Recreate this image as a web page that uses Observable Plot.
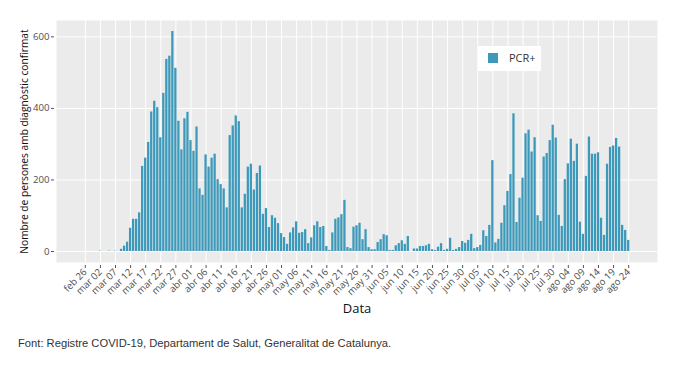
<!DOCTYPE html>
<html>
<head>
<meta charset="utf-8">
<script src="https://cdn.jsdelivr.net/npm/d3@7"></script>
<script src="https://cdn.jsdelivr.net/npm/@observablehq/plot@0.6"></script>
<style>
  body { margin: 0; background: white; }
  #wrap { position: relative; width: 681px; }
  #legend { position: absolute; left: 478px; top: 46px; width: 63px; height: 25px; background: white;
    font-family: "Open Sans", Verdana, sans-serif; font-size: 11px; color: #333; }
  #legend .sw { position: absolute; left: 10px; top: 7px; width: 10px; height: 10px; background: #3c99ba; }
  #legend .lb { position: absolute; left: 31px; top: 4px; line-height: 16px; }
  #caption { font-family: "Liberation Sans", Arial, sans-serif; font-size: 11.2px; color: #333; padding-left: 18px; margin-top: 5px; }
</style>
</head>
<body>
<div id="wrap">
  <div id="chart"></div>
  <div id="legend"><div class="sw"></div><div class="lb">PCR+</div></div>
  <div id="caption">Font: Registre COVID-19, Departament de Salut, Generalitat de Catalunya.</div>
</div>
<script>
const startDate = "2020-02-26";
const seriesName = "PCR+";
const xTitle = "Data";
const yTitle = "Nombre de persones amb diagnòstic confirmat";
const monthAbbr = ["gen","feb","mar","abr","may","jun","jul","ago","set","oct","nov","des"];
const yTicks = [0, 200, 400, 600];
const pcr = [
  0,0,0,0,0,1,0,0,1,0,1,0,
  6,15,26,65,90,90,108,238,261,305,390,420,402,318,442,537,546,615,512,364,284,371,389,310,280,348,175,157,270,236,261,272,201,
  187,175,122,324,351,379,363,122,160,236,244,172,218,239,104,120,67,100,93,78,50,39,20,52,66,83,51,53,61,22,38,72,83,67,70,14,3,52,90,94,103,143,11,8,68,
  72,79,33,61,11,5,5,25,33,47,44,3,3,16,22,30,20,42,0,7,7,14,14,16,20,5,3,12,22,3,6,37,3,6,11,28,23,31,48,8,11,17,58,42,73,
  254,24,34,79,128,168,215,385,81,149,205,329,339,278,318,100,84,264,274,310,353,317,101,70,201,245,314,252,300,82,48,210,320,272,272,276,93,45,244,291,295,316,292,73,59,31
];

const start = new Date(startDate + "T00:00:00Z");
const rows = pcr.map((v, i) => ({date: d3.utcDay.offset(start, i), value: v}));
const n = rows.length;
const tickDates = d3.range(0, n, 5).map(i => rows[i].date);
const fmt = d => `${monthAbbr[d.getUTCMonth()]} ${String(d.getUTCDate()).padStart(2, "0")}`;
const hourOff = (d, h) => new Date(+d + h * 3600e3);
const pad = (n - 1 + 0.9) * 0.05 + 0.5;
const yMax = d3.max(pcr), yPad = yMax * 0.05;

const chart = Plot.plot({
  width: 681,
  height: 332,
  marginLeft: 56,
  marginRight: 24,
  marginTop: 20,
  marginBottom: 70,
  style: {fontFamily: '"Open Sans", Verdana, sans-serif', background: "white"},
  x: {type: "utc", domain: [hourOff(start, -24 * pad), hourOff(rows[n - 1].date, 24 * pad)]},
  y: {domain: [-yPad, yMax + yPad]},
  marks: [
    Plot.frame({fill: "#ebebeb", stroke: null}),
    Plot.gridY(yTicks, {stroke: "white", strokeOpacity: 1, strokeWidth: 1}),
    Plot.gridX(tickDates, {stroke: "white", strokeOpacity: 1, strokeWidth: 1}),
    Plot.rectY(rows, {
      x1: d => hourOff(d.date, -9),
      x2: d => hourOff(d.date, 9),
      y1: 0,
      y2: "value",
      fill: "#3c99ba"
    }),
    Plot.axisX(tickDates, {
      tickSize: 3, tickPadding: 2, tickRotate: -45, tickFormat: fmt, dy: 3,
      fontSize: 9.6, fill: "#4d4d4d", stroke: "#555", label: null
    }),
    Plot.axisY(yTicks, {
      tickSize: 3, tickPadding: 2, dx: -2, fontSize: 9.6, fill: "#4d4d4d", stroke: "#555", label: null
    }),
    Plot.text([xTitle], {frameAnchor: "bottom", dy: 50, fontSize: 13, fill: "#111"}),
    Plot.text([yTitle], {frameAnchor: "left", textAnchor: "middle", rotate: -90, dx: -32, fontSize: 10.2, fill: "#111"})
  ]
});
document.getElementById("chart").appendChild(chart);
</script>
</body>
</html>
